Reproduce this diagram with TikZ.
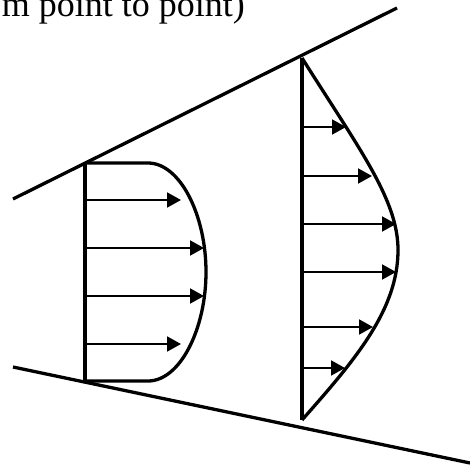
\documentclass[tikz,border=0pt]{standalone}
\usepackage{fontspec}
\setmainfont{Liberation Serif}
\usetikzlibrary{arrows.meta}
\begin{document}
\begin{tikzpicture}[x=1pt,y=-1pt,
  wall/.style={line width=3.3pt},
  prof/.style={line width=3.3pt,line join=round},
  vel/.style={line width=2pt,-{Triangle[length=14pt,width=15pt]}}]
\useasboundingbox (0,0) rectangle (470,465);
\node[anchor=base east,inner sep=0pt,font=\fontsize{36}{40}\selectfont] (cap) at (245,17) {m point to point)};
% channel walls
\coordinate (tl) at (13,199);
\coordinate (tr) at (397,8);
\coordinate (bl) at (13,367);
\coordinate (br) at (470,463);
\draw[wall] (tl) -- (tr);
\draw[wall] (bl) -- (br);
% left profile
\coordinate (a1) at (85,163);
\coordinate (a2) at (85,381);
\draw[prof] (a1) -- (148,163) .. controls (180,163) and (206,215) .. (206,272)
  .. controls (206,329) and (180,381) .. (148,381) -- (a2);
\draw[prof] (a1) -- (a2);
\foreach \y/\x in {200/181,248/204,296/204,344/181}
  \draw[vel] (85,\y) -- (\x,\y);
% right profile
\coordinate (b1) at (302,58);
\coordinate (b2) at (302,420);
\draw[prof] (b1) .. controls (360,150) and (398,200) .. (398,250)
  .. controls (398,310) and (355,360) .. (b2);
\draw[prof] (b1) -- (b2);
\foreach \y/\x in {127/346,176/372,224/396,272/396,327/373,368/345}
  \draw[vel] (302,\y) -- (\x,\y);
\end{tikzpicture}
\end{document}
